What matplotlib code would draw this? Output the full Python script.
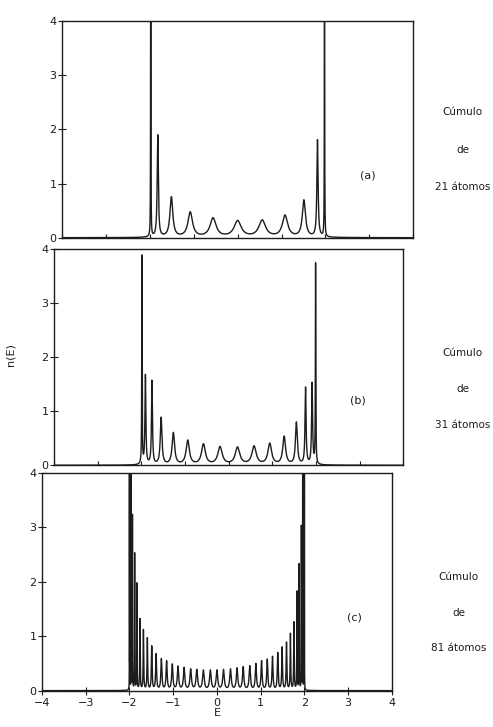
import numpy as np
import matplotlib
matplotlib.use("Agg")
import matplotlib.pyplot as plt

# cluster sizes and panel tags
n_atoms = [21, 31, 81]
tags = ["(a)", "(b)", "(c)"]

# peak positions (E) and peak heights n(E)
peaks_a = [-1.98, -1.82, -1.51, -1.08, -0.56, 0.0, 0.56, 1.08, 1.51, 1.82, 1.98]
heights_a = [10.0, 1.88, 0.74, 0.46, 0.35, 0.30, 0.31, 0.40, 0.68, 1.79, 10.0]

peaks_b = [-1.99, -1.91, -1.76, -1.55, -1.27, -0.94, -0.58, -0.20,
           0.20, 0.58, 0.94, 1.27, 1.55, 1.76, 1.91, 1.99]
heights_b = [3.85, 1.65, 1.55, 0.87, 0.59, 0.45, 0.38, 0.33,
             0.32, 0.34, 0.39, 0.52, 0.78, 1.42, 1.50, 3.70]

peaks_c = [-2.00, -1.99, -1.96, -1.93, -1.88, -1.83, -1.76, -1.68, -1.59, -1.49,
           -1.39, -1.27, -1.15, -1.02, -0.89, -0.75, -0.60, -0.46, -0.31, -0.15,
           0.00,
           0.15, 0.31, 0.46, 0.60, 0.75, 0.89, 1.02, 1.15, 1.27, 1.39,
           1.49, 1.59, 1.68, 1.76, 1.83, 1.88, 1.93, 1.96, 1.99, 2.00]
heights_c = [12.0, 7.0, 5.0, 3.2, 2.5, 1.95, 1.30, 1.10, 0.95, 0.80,
             0.66, 0.57, 0.53, 0.47, 0.43, 0.41, 0.38, 0.37, 0.36, 0.36,
             0.36,
             0.37, 0.38, 0.40, 0.42, 0.44, 0.48, 0.53, 0.56, 0.61, 0.68,
             0.78, 0.87, 1.03, 1.24, 1.80, 2.30, 3.00, 5.00, 7.00, 12.0]

all_peaks = [peaks_a, peaks_b, peaks_c]
all_heights = [heights_a, heights_b, heights_c]

xticks = [-4, -3, -2, -1, 0, 1, 2, 3, 4]
yticks = [0, 1, 2, 3, 4]

ink = "#1c1c1c"
E = np.linspace(-4, 4, 80001)


def broadened(pos, hts, area):
    # each level drawn as a lorentzian of given height, same weight per level
    n = np.zeros_like(E)
    for e0, h in zip(pos, hts):
        g = area / (np.pi * h)
        n += h * g**2 / ((E - e0)**2 + g**2)
    return n


fig = plt.figure(figsize=(4.93, 7.27), dpi=100)
boxes = [[0.126, 0.673, 0.712, 0.298],
         [0.110, 0.360, 0.708, 0.297],
         [0.085, 0.050, 0.710, 0.300]]
tag_pos = [(2.97, 1.15), (2.95, 1.2), (3.15, 1.35)]
side_x = [0.938, 0.938, 0.930]
side_y = [(0.846, 0.794, 0.743), (0.514, 0.465, 0.415), (0.206, 0.157, 0.109)]

for i in range(3):
    ax = fig.add_axes(boxes[i])
    n = broadened(all_peaks[i], all_heights[i], 2.0 / (n_atoms[i] + 1))
    ax.plot(E, n, color=ink, lw=1.0)
    ax.set_xlim(-4, 4)
    ax.set_ylim(0, 4)
    ax.set_xticks(xticks)
    ax.set_yticks(yticks)
    for s in ax.spines.values():
        s.set_linewidth(1.0)
        s.set_color(ink)
    ax.tick_params(axis="y", direction="inout", length=6, width=0.8,
                   labelsize=8, colors=ink, pad=1)
    if i < 2:
        ax.tick_params(axis="x", direction="in", length=3, width=0.8,
                       labelbottom=False, colors=ink)
    else:
        ax.tick_params(axis="x", direction="inout", length=6, width=0.8,
                       labelsize=8, colors=ink, pad=2)
        ax.set_xlabel("E", fontsize=8, color=ink, labelpad=0)
    ax.text(tag_pos[i][0], tag_pos[i][1], tags[i], fontsize=8, color=ink,
            ha="center", va="center")
    lines = ["Cúmulo", "de", "%d átomos" % n_atoms[i]]
    for txt, yy in zip(lines, side_y[i]):
        fig.text(side_x[i], yy, txt, fontsize=7.5, color=ink,
                 ha="center", va="center")

fig.text(0.022, 0.512, "n(E)", rotation=90, fontsize=8, color=ink,
         ha="center", va="center")

fig.savefig("out.png", dpi=100, facecolor="white")
